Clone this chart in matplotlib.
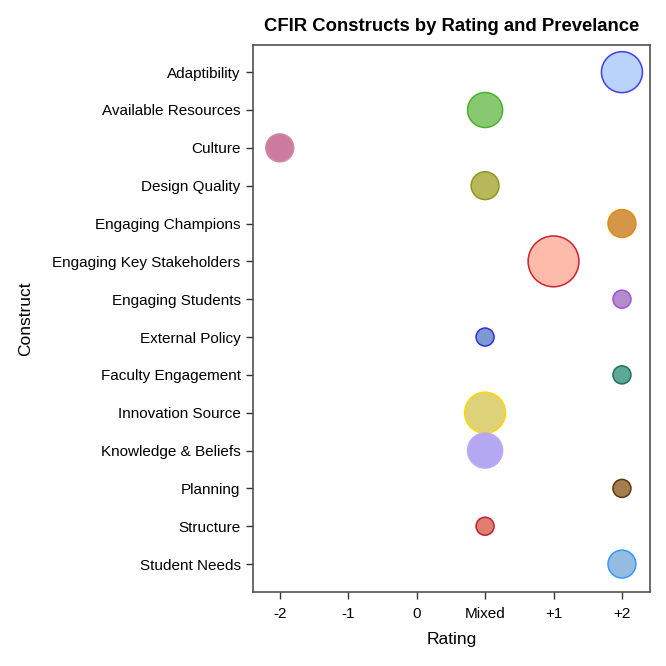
import matplotlib.pyplot as plt

plt.rcParams['font.family'] = ['Liberation Sans', 'DejaVu Sans']

# constructs, top to bottom
constructs = ['Adaptibility', 'Available Resources', 'Culture', 'Design Quality',
              'Engaging Champions', 'Engaging Key Stakeholders', 'Engaging Students',
              'External Policy', 'Faculty Engagement', 'Innovation Source',
              'Knowledge & Beliefs', 'Planning', 'Structure', 'Student Needs']
rating_labels = ['-2', '-1', '0', 'Mixed', '+1', '+2']
ratings = ['+2', 'Mixed', '-2', 'Mixed', '+2', '+1', '+2',
           'Mixed', '+2', 'Mixed', 'Mixed', '+2', 'Mixed', '+2']
prevalence = [4, 3, 2, 2, 2, 6, 1, 1, 1, 4, 3, 1, 1, 2]

fill_colors = ['#BAD3FA', '#88C870', '#CE7BA0', '#B8B85A', '#D4974A', '#FFBBAA', '#B48CCC',
               '#7D9AD0', '#5FA898', '#DDD27A', '#B4A8F0', '#A57E50', '#E07F70', '#94BCE0']
edge_colors = ['#3F3FF0', '#4CB030', '#D088A8', '#8A9A20', '#E08A10', '#CC2233', '#A050E0',
               '#3030E0', '#207060', '#FFD700', '#C0A8F8', '#5A3810', '#C02030', '#3399FF']

x = [rating_labels.index(r) for r in ratings]
y = list(range(len(constructs)))


# bubble area grows linearly with prevalence (radius in pixels at 100 dpi)
def bubble_size(c):
    r_px = (81 + 113 * (c - 1)) ** 0.5
    return (2 * r_px * 0.72) ** 2


sizes = [bubble_size(c) for c in prevalence]

fig = plt.figure(figsize=(6.66, 6.66), dpi=100)
ax = fig.add_axes([0.380, 0.111, 0.596, 0.821])

ax.scatter(x, y, s=sizes, c=fill_colors, edgecolors=edge_colors, linewidths=1.1, zorder=3)

ax.set_xlim(-0.39, 5.41)
ax.set_ylim(len(constructs) - 1 + 0.74, -0.71)
ax.set_xticks(range(len(rating_labels)))
ax.set_xticklabels(rating_labels)
ax.set_yticks(y)
ax.set_yticklabels(constructs)
ax.tick_params(axis='both', labelsize=11, length=5, width=1, color='#333333', pad=4)
ax.tick_params(axis='x', pad=6)

for sp in ax.spines.values():
    sp.set_color('#444444')
    sp.set_linewidth(1.1)

ax.set_xlabel('Rating', fontsize=12.5, labelpad=8)
ax.set_ylabel('Construct', fontsize=12.5, labelpad=14)
ax.set_title('CFIR Constructs by Rating and Prevelance', fontsize=13.3, fontweight='bold', pad=10)

fig.savefig('out.png', dpi=100)
